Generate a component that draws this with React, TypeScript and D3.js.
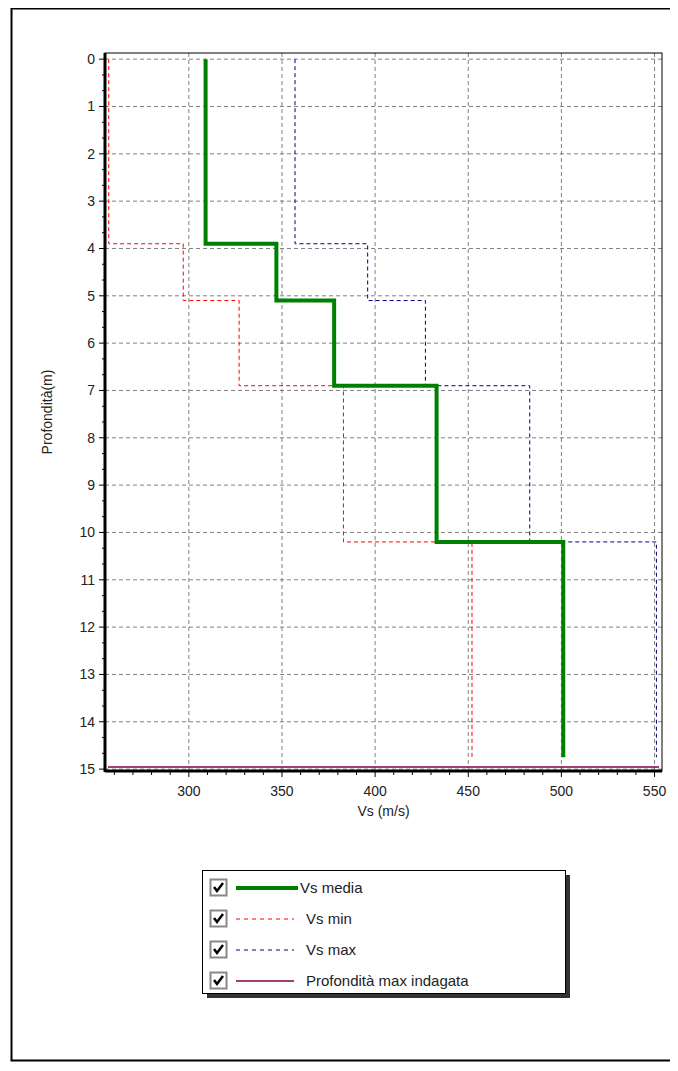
import * as React from 'react';
import * as d3 from 'd3';

// layer boundaries (m) and velocities (m/s)
const depths = [0, 3.9, 5.1, 6.9, 10.2, 14.75];
const vsMedia = [309, 347, 378, 433, 501];
const vsMin = [257, 297, 327, 383, 452];
const vsMax = [357, 396, 427, 483, 551];
const maxDepth = 15;
const xTicks = [300, 350, 400, 450, 500, 550];
const yTicks = d3.range(0, 16);

const legendItems = [
  { label: 'Vs media', color: '#008000', width: 4, dash: '' },
  { label: 'Vs min', color: '#ff0000', width: 1, dash: '4,4' },
  { label: 'Vs max', color: '#000080', width: 1, dash: '4,4' },
  { label: 'Profondità max indagata', color: '#800040', width: 1.5, dash: '' },
];

const M = { left: 97, top: 45, right: 654, bottom: 763 };
const font = 'Arial, "Liberation Sans", sans-serif';

export default function App() {
  const x = d3.scaleLinear().domain([255, 554]).range([M.left, M.right]);
  const y = d3.scaleLinear().domain([-0.13, 15.04]).range([M.top, M.bottom]);

  const stepPath = (vals: number[]) => {
    const pts: [number, number][] = [];
    vals.forEach((v, i) => {
      pts.push([v, depths[i]]);
      pts.push([v, depths[i + 1]]);
    });
    return d3.line<[number, number]>().x(d => x(d[0])).y(d => y(d[1]))(pts) || '';
  };

  const minorX = d3.range(260, 554, 10).filter(v => v % 50 !== 0);
  const minorY = d3.range(0, 15, 1 / 3).filter((v, i) => i % 3 !== 0);

  return (
    <svg width={662} height={1055} style={{ display: 'block', overflow: 'visible' }} fontFamily={font}>
      <rect x={3.5} y={0.5} width={680} height={1052} fill="white" stroke="black" strokeWidth={2} />
      {/* grid */}
      {xTicks.map(t => (
        <line key={'gx' + t} x1={x(t)} x2={x(t)} y1={M.top} y2={M.bottom} stroke="#808080" strokeDasharray="4,3" />
      ))}
      {yTicks.map(t => (
        <line key={'gy' + t} x1={M.left} x2={M.right} y1={y(t)} y2={y(t)} stroke="#808080" strokeDasharray="4,3" />
      ))}
      {/* series */}
      <path d={stepPath(vsMin)} fill="none" stroke="#ff0000" strokeWidth={1} strokeDasharray="4,3" />
      <path d={stepPath(vsMax)} fill="none" stroke="#000080" strokeWidth={1} strokeDasharray="4,3" />
      <path d={stepPath(vsMedia)} fill="none" stroke="#008000" strokeWidth={4} />
      <line x1={M.left + 3} x2={M.right - 3} y1={y(maxDepth) - 2} y2={y(maxDepth) - 2} stroke="#800040" strokeWidth={1.5} />
      {/* frame */}
      <rect x={M.left} y={M.top} width={M.right - M.left} height={M.bottom - M.top} fill="none" stroke="black" strokeWidth={1} />
      <line x1={M.left} x2={M.left} y1={M.top} y2={M.bottom + 1} stroke="black" strokeWidth={3} />
      <line x1={M.left} x2={M.right} y1={M.bottom} y2={M.bottom} stroke="black" strokeWidth={3} />
      {/* ticks */}
      {xTicks.map(t => (
        <g key={'tx' + t}>
          <line x1={x(t)} x2={x(t)} y1={M.bottom} y2={M.bottom + 6} stroke="black" />
          <text x={x(t)} y={M.bottom + 25} textAnchor="middle" fontSize={14} fill="#222">{t}</text>
        </g>
      ))}
      {minorX.map(t => (
        <line key={'mx' + t} x1={x(t)} x2={x(t)} y1={M.bottom} y2={M.bottom + 4} stroke="black" />
      ))}
      {yTicks.map(t => (
        <g key={'ty' + t}>
          <line x1={M.left - 6} x2={M.left} y1={y(t)} y2={y(t)} stroke="black" />
          <text x={M.left - 10} y={y(t) + 5} textAnchor="end" fontSize={14} fill="#222">{t}</text>
        </g>
      ))}
      {minorY.map(t => (
        <line key={'my' + t} x1={M.left - 3} x2={M.left} y1={y(t)} y2={y(t)} stroke="black" />
      ))}
      <text x={(M.left + M.right) / 2} y={M.bottom + 45} textAnchor="middle" fontSize={14} fill="#222">Vs (m/s)</text>
      <text transform={`translate(44, ${(M.top + M.bottom) / 2}) rotate(-90)`} textAnchor="middle" fontSize={14} fill="#222">Profondità(m)</text>
      {/* legend */}
      <g transform="translate(194, 862)">
        <rect x={5} y={5} width={363} height={123} fill="#333" />
        <rect x={0.5} y={0.5} width={363} height={123} fill="white" stroke="black" />
        {legendItems.map((it, i) => {
          const cy = 18 + i * 31;
          return (
            <g key={it.label} transform={`translate(0, ${cy})`}>
              <rect x={8.5} y={-8.5} width={16} height={16} fill="white" stroke="#888" strokeWidth={2} />
              <path d="M12,-1 L15,3 L21,-5" fill="none" stroke="black" strokeWidth={2.5} />
              <line x1={34} x2={it.width > 2 ? 96 : 92} y1={0} y2={0} stroke={it.color} strokeWidth={it.width} strokeDasharray={it.dash} />
              <text x={it.width > 2 ? 98 : 104} y={5} fontSize={15} fill="#222">{it.label}</text>
            </g>
          );
        })}
      </g>
    </svg>
  );
}
